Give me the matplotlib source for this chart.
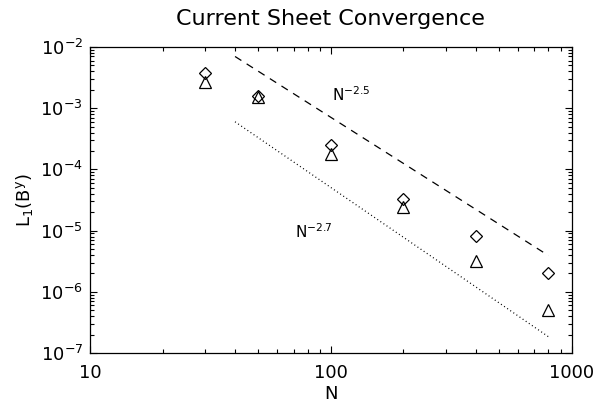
import matplotlib
matplotlib.use("Agg")
import matplotlib.pyplot as plt
import numpy as np
from matplotlib.ticker import LogLocator, FixedLocator, FixedFormatter, NullFormatter

plt.rcParams["font.family"] = ["DejaVu Sans"]
plt.rcParams["mathtext.default"] = "regular"

# resolutions and L1 errors
N = [30, 50, 100, 200, 400, 800]
err_diamond = [3.8e-3, 1.56e-3, 2.5e-4, 3.25e-5, 8.2e-6, 2.05e-6]
err_triangle = [2.7e-3, 1.5e-3, 1.8e-4, 2.4e-5, 3.2e-6, 5.0e-7]

# reference slopes
ref_N = [40, 800]
ref_25_start = 7.0e-3
ref_27_start = 6.0e-4

xlabs = ["10", "100", "1000"]
ylabs = [r"$10^{%d}$" % e for e in range(-7, -1)]

fig = plt.figure(figsize=(6.0, 4.07), dpi=100)
ax = fig.add_axes([0.15, 0.1327, 0.803, 0.7518])

ax.plot(N, err_diamond, linestyle="none", marker="D", ms=6.2,
        mfc="none", mec="black", mew=0.9)
ax.plot(N, err_triangle, linestyle="none", marker="^", ms=8.8,
        mfc="none", mec="black", mew=0.9)

rn = np.array(ref_N, dtype=float)
ax.plot(rn, ref_25_start*(rn/rn[0])**-2.5, color="black", lw=0.9,
        linestyle=(0, (6, 5)))
ax.plot(rn, ref_27_start*(rn/rn[0])**-2.7, color="black", lw=0.9,
        linestyle=(0, (0.8, 2.2)))

ax.text(101, 1.65e-3, r"N$^{-2.5}$", fontsize=11, va="center", ha="left")
ax.text(71, 9.5e-6, r"N$^{-2.7}$", fontsize=11, va="center", ha="left")

ax.set_xscale("log")
ax.set_yscale("log")
ax.set_xlim(10, 1000)
ax.set_ylim(1e-7, 1e-2)

ax.xaxis.set_major_locator(FixedLocator([10, 100, 1000]))
ax.xaxis.set_major_formatter(FixedFormatter(xlabs))
ax.xaxis.set_minor_locator(LogLocator(base=10, subs=np.arange(2, 10)))
ax.xaxis.set_minor_formatter(NullFormatter())
ax.yaxis.set_major_locator(FixedLocator([10.0**e for e in range(-7, -1)]))
ax.yaxis.set_major_formatter(FixedFormatter(ylabs))
ax.yaxis.set_minor_locator(LogLocator(base=10, subs=np.arange(2, 10), numticks=20))
ax.yaxis.set_minor_formatter(NullFormatter())

ax.tick_params(which="both", direction="in", top=True, right=True,
               width=0.8, labelsize=13)
ax.tick_params(which="major", length=5, pad=8)
ax.tick_params(which="minor", length=3)
ax.tick_params(axis="y", which="major", pad=5)
for s in ax.spines.values():
    s.set_linewidth(0.9)

ax.set_xlabel("N", fontsize=13, labelpad=2)
ax.set_ylabel(r"L$_1$(B$^y$)", fontsize=13, labelpad=4)
ax.set_title("Current Sheet Convergence", fontsize=16, pad=16)

fig.savefig("out.png", dpi=100)
